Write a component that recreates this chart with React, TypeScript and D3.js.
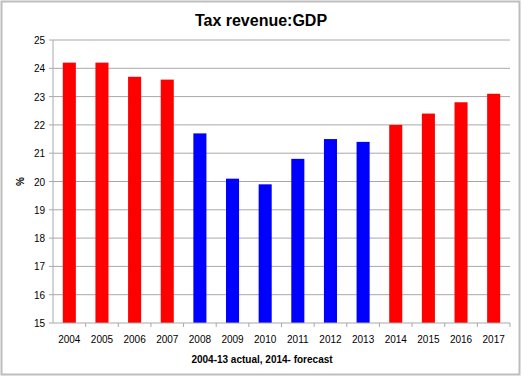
import React from "react";
import * as d3 from "d3";

const years = ["2004","2005","2006","2007","2008","2009","2010","2011","2012","2013","2014","2015","2016","2017"];
const values = [24.2, 24.2, 23.7, 23.6, 21.7, 20.1, 19.9, 20.8, 21.5, 21.4, 22.0, 22.4, 22.8, 23.1];
const kinds = ["f","f","f","f","a","a","a","a","a","a","f","f","f","f"];
const yTicks = [15,16,17,18,19,20,21,22,23,24,25];
const title = "Tax revenue:GDP";
const xTitle = "2004-13 actual, 2014- forecast";
const yTitle = "%";

const W = 522, H = 377;
const left = 53, right = 510, top = 40, bottom = 323;
const font = "Liberation Sans, Arial, sans-serif";

export default function App() {
  const x = d3.scaleBand().domain(years).range([left, right]).paddingInner(0.6).paddingOuter(0.3);
  const band = d3.scaleBand().domain(years).range([left, right]);
  const y = d3.scaleLinear().domain([15, 25]).range([bottom, top]);
  const color = (k: string) => (k === "a" ? "#0000ff" : "#ff0000");
  return (
    <svg width={W} height={H} style={{ position: "absolute", left: 0, top: 0 }} fontFamily={font}>
      <rect x={0} y={0} width={W} height={H} fill="#fff" />
      <rect x={1.5} y={1.5} width={W - 4} height={H - 4} fill="none" stroke="#bdbdbd" strokeWidth={2} />
      <text x={W / 2} y={26} textAnchor="middle" fontSize={16} fontWeight="bold">{title}</text>
      {yTicks.map((t) => (
        <g key={t}>
          {t !== 15 && <line x1={left} x2={right} y1={y(t)} y2={y(t)} stroke="#a8a8a8" strokeWidth={1} />}
          <line x1={left - 4} x2={left} y1={y(t)} y2={y(t)} stroke="#a8a8a8" />
          <text x={left - 8} y={y(t) + 4} textAnchor="end" fontSize={10}>{t}</text>
        </g>
      ))}
      {years.map((yr, i) => (
        <rect key={yr} x={x(yr)} y={y(values[i])} width={x.bandwidth()} height={y(15) - y(values[i])} fill={color(kinds[i])} />
      ))}
      <line x1={left} x2={left} y1={top} y2={bottom} stroke="#a8a8a8" />
      <line x1={left} x2={right} y1={bottom} y2={bottom} stroke="#a8a8a8" />
      {years.map((yr) => (
        <line key={"t" + yr} x1={band(yr)! + band.bandwidth()} x2={band(yr)! + band.bandwidth()} y1={bottom} y2={bottom + 4} stroke="#a8a8a8" />
      ))}
      {years.map((yr) => (
        <text key={"l" + yr} x={band(yr)! + band.bandwidth() / 2} y={bottom + 20} textAnchor="middle" fontSize={10}>{yr}</text>
      ))}
      <text x={W / 2 + 1} y={363} textAnchor="middle" fontSize={10} fontWeight="bold">{xTitle}</text>
      <text transform={`translate(24, ${(top + bottom) / 2}) rotate(-90)`} textAnchor="middle" fontSize={10} fontWeight="bold">{yTitle}</text>
    </svg>
  );
}
